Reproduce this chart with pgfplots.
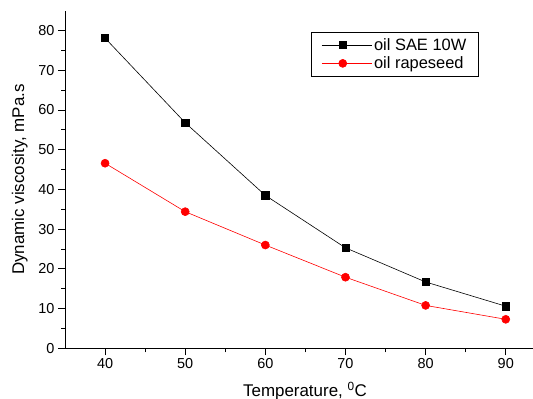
\documentclass[border=0pt]{standalone}
\usepackage{fontspec}
\setmainfont{Liberation Sans}
\usepackage{pgfplots}
\pgfplotsset{compat=1.18}
\begin{document}
\begin{tikzpicture}
\path[use as bounding box] (0,0) rectangle (533bp,399bp);
\begin{axis}[
  at={(65bp,50.7bp)}, anchor=south west,
  scale only axis, width=468bp, height=337.6bp,
  xmin=35, xmax=93.4, ymin=0, ymax=85,
  axis x line*=bottom, axis y line*=left,
  axis line style={-, line width=0.8bp},
  xtick={40,50,...,90}, ytick={0,10,...,80},
  minor tick num=1,
  tick align=outside,
  major tick length=7bp, minor tick length=4bp,
  tick style={black, line width=0.8bp},
  /pgf/number format/assume math mode=true,
  tick label style={font=\fontsize{14.5}{16}\selectfont},
  label style={font=\fontsize{17}{19}\selectfont},
  xlabel={Temperature, $^{\mathrm{0}}$C},
  ylabel={Dynamic viscosity, mPa.s},
  xlabel style={yshift=-6bp, xshift=6bp},
  ylabel style={yshift=4bp},
  legend style={at={(0.526,0.937)}, anchor=north west, draw=black, line width=0.6bp,
    font=\fontsize{16.5}{18}\selectfont, inner xsep=10bp, inner ysep=4bp,
    row sep=1bp},
  legend image code/.code={
    \path (0bp,0bp) -- (50bp,0bp);
    \draw[mark repeat=2,mark phase=2] plot coordinates {(0bp,0bp) (21bp,0bp) (42bp,0bp)};},
  legend cell align=left,
  clip=false,
]
\addplot[black, line width=0.6bp, mark=square*, mark size=3.6bp, mark options={solid,fill=black}]
  coordinates {(40,78.1) (50,56.8) (60,38.5) (70,25.3) (80,16.7) (90,10.6)};
\addlegendentry{oil SAE 10W}
\addplot[red, line width=0.6bp, mark=*, mark size=4bp, mark options={solid,fill=red}]
  coordinates {(40,46.6) (50,34.4) (60,26.0) (70,17.9) (80,10.8) (90,7.3)};
\addlegendentry{oil rapeseed}
\end{axis}
\end{tikzpicture}
\end{document}
